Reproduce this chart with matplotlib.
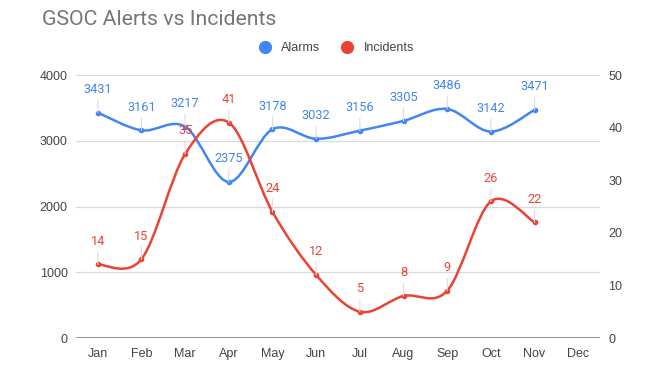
import numpy as np
import matplotlib.pyplot as plt
from matplotlib.path import Path
from matplotlib.patches import PathPatch
from matplotlib.lines import Line2D

plt.rcParams["font.family"] = ["Liberation Sans", "DejaVu Sans"]

months = ["Jan", "Feb", "Mar", "Apr", "May", "Jun", "Jul", "Aug", "Sep", "Oct", "Nov", "Dec"]
alarms = [3431, 3161, 3217, 2375, 3178, 3032, 3156, 3305, 3486, 3142, 3471]
incidents = [14, 15, 35, 41, 24, 12, 5, 8, 9, 26, 22]

BLUE = "#4285F4"
RED = "#EA4335"
TEXT = "#444444"


def smooth_path(xs, ys):
    # Catmull-Rom style cubic bezier through the points
    xs = np.asarray(xs, float)
    ys = np.asarray(ys, float)
    n = len(xs)
    verts = [(xs[0], ys[0])]
    codes = [Path.MOVETO]
    for i in range(n - 1):
        p0 = i - 1 if i > 0 else i
        p3 = i + 2 if i + 2 < n else i + 1
        c1 = (xs[i] + (xs[i + 1] - xs[p0]) / 6, ys[i] + (ys[i + 1] - ys[p0]) / 6)
        c2 = (xs[i + 1] - (xs[p3] - xs[i]) / 6, ys[i + 1] - (ys[p3] - ys[i]) / 6)
        verts += [c1, c2, (xs[i + 1], ys[i + 1])]
        codes += [Path.CURVE4] * 3
    return Path(verts, codes)


fig = plt.figure(figsize=(6.66, 3.76), dpi=100)
ax = fig.add_axes([0.114, 0.101, 0.787, 0.699])
ax2 = ax.twinx()

x = np.arange(len(alarms))

ax.set_xlim(-0.5, 11.5)
ax.set_ylim(0, 4000)
ax2.set_ylim(0, 50)

ax.add_patch(PathPatch(smooth_path(x, alarms), fill=False, color=BLUE, lw=1.8, zorder=3))
ax.plot(x, alarms, "o", color=BLUE, ms=3, zorder=4)
ax2.add_patch(PathPatch(smooth_path(x, incidents), fill=False, color=RED, lw=1.8, zorder=3))
ax2.plot(x, incidents, "o", color=RED, ms=3, zorder=4)

# data labels with leader lines
for a, vals, col in ((ax, alarms, BLUE), (ax2, incidents, RED)):
    for xi, v in zip(x, vals):
        a.annotate(str(v), (xi, v), xytext=(0, 12), textcoords="offset points",
                   ha="center", va="bottom", color=col, fontsize=9.2, family="Roboto",
                   zorder=6,
                   arrowprops=dict(arrowstyle="-", color="#dddddd", lw=0.8,
                                   shrinkA=1, shrinkB=0))

ax.set_xticks(np.arange(len(months)))
ax.set_xticklabels(months)
ax.set_yticks([0, 1000, 2000, 3000, 4000])
ax2.set_yticks([0, 10, 20, 30, 40, 50])

ax.grid(axis="y", color="#d9d9d9", lw=0.9)
ax.set_axisbelow(True)
for a in (ax, ax2):
    for s in a.spines.values():
        s.set_visible(False)
    a.tick_params(length=0, labelsize=9, labelcolor=TEXT)
ax.tick_params(axis="x", pad=7)
ax.tick_params(axis="y", pad=6)
ax2.tick_params(axis="y", pad=6)
ax.axhline(0, color="#888888", lw=1.3, zorder=2)

fig.text(0.063, 0.948, "GSOC Alerts vs Incidents", fontsize=15.3, color="#757575",
         ha="left", va="center", family="Roboto")

handles = [
    Line2D([], [], marker="o", ls="none", color=BLUE, ms=8.5),
    Line2D([], [], marker="o", ls="none", color=RED, ms=8.5),
]
fig.legend(handles, ["Alarms", "Incidents"], loc="center", bbox_to_anchor=(0.5, 0.872),
           ncol=2, frameon=False, fontsize=9, handletextpad=0.3, columnspacing=1.2,
           labelcolor=TEXT)

fig.savefig("out.png", dpi=100)
